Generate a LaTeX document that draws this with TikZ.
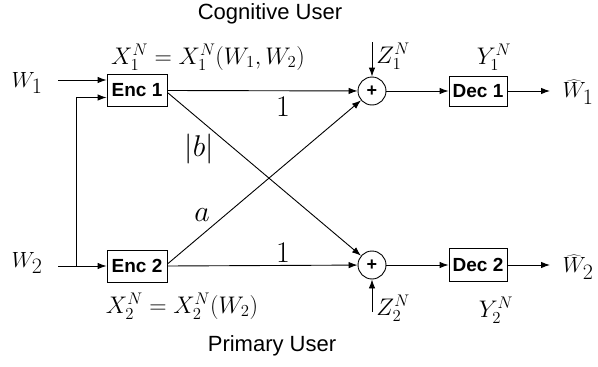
\RequirePackage{fix-cm}
\documentclass[tikz,border=0pt]{standalone}
\usepackage{fontspec}
\setsansfont{Liberation Sans}
\usetikzlibrary{arrows.meta,calc}
\begin{document}
\begin{tikzpicture}[x=1pt,y=-1pt,
  line width=0.9pt,
  arr/.style={-{Latex[length=9pt,width=6.5pt]}},
  blk/.style={draw, font=\fontsize{19}{22}\selectfont\sffamily\bfseries, minimum width=60pt, minimum height=32pt, inner sep=2pt},
  sum/.style={draw, circle, minimum size=28pt, inner sep=0pt, font=\fontsize{18}{20}\selectfont\sffamily\bfseries},
  ml/.style={font=\fontsize{24}{28}\selectfont, inner sep=0pt},
  wl/.style={font=\fontsize{22}{26}\selectfont, inner sep=0pt},
  gl/.style={font=\fontsize{30}{34}\selectfont, inner sep=0pt},
  tl/.style={font=\fontsize{22}{26}\selectfont\sffamily, inner sep=0pt}]
\useasboundingbox (0,0) rectangle (598,367);

\node[blk] (e1) at (137,90.5) {Enc 1};
\node[blk] (e2) at (137,266) {Enc 2};
\node[sum] (s1) at (372,91) {+};
\node[sum] (s2) at (372,265) {+};
\node[blk, minimum width=58pt, minimum height=30pt] (d1) at (478,91) {Dec 1};
\node[blk, minimum width=58pt, minimum height=33pt] (d2) at (478,265) {Dec 2};

\node[wl] (w1) at (27,83) {$W_{\textstyle 1}$};
\node[wl] (w2) at (27,263) {$W_{\textstyle 2}$};
\node[ml] (x1) at (208,57) {$X_1^N = X_1^N(W_1,W_2)$};
\node[ml] (x2) at (182,306) {$X_2^N = X_2^N(W_2)$};
\node[ml, anchor=west] (z1) at (376,56) {$Z_1^N$};
\node[ml, anchor=west] (z2) at (376,308) {$Z_2^N$};
\node[ml] (y1) at (494,57) {$Y_1^N$};
\node[ml] (y2) at (496,310) {$Y_2^N$};
\node[tl] (cu) at (270,14) {Cognitive User};
\node[tl] (pu) at (272,346) {Primary User};
\node[wl] (wh1) at (578,92) {$\widehat{W}_{\textstyle 1}$};
\node[wl] (wh2) at (578,267) {$\widehat{W}_{\textstyle 2}$};

\node[gl] (l1) at (283,107) {$1$};
\node[gl] (l2) at (283,253) {$1$};
\node[gl] (la) at (202,215) {$a$};
\node[gl] (lb) at (199,149) {$\big|b\big|$};

\coordinate (w1s) at (58,80);
\coordinate (w2s) at (58,266);
\coordinate (j) at (76,266);
\coordinate (zt) at (372,42);
\coordinate (zb) at (372,312);
\coordinate (o1) at (550,91);
\coordinate (o2) at (550,265);

\draw[arr] (w1s) -- (w1s -| e1.west);
\draw[arr] (w2s) -- (e2.west);
\draw[arr] (j) |- ([yshift=-7pt]e1.west);
\draw[arr] (e1.east) -- (s1);
\draw[arr] ([yshift=-2pt]e1.east) -- (s2);
\draw[arr] (e2.east) -- (s2);
\draw[arr] ([yshift=2pt]e2.east) -- (s1);
\draw[arr] (s1) -- (d1);
\draw[arr] (s2) -- (d2);
\draw[arr] (d1) -- (o1);
\draw[arr] (d2) -- (o2);
\draw[arr] (zt) -- (s1);
\draw[arr] (zb) -- (s2);
\end{tikzpicture}
\end{document}
